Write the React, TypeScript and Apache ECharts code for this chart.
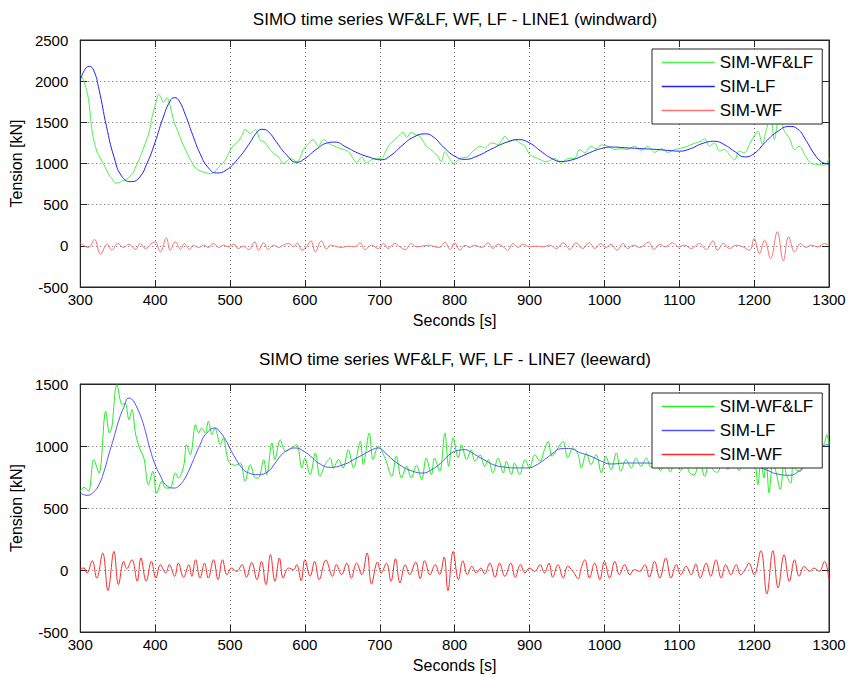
import React, { useEffect, useRef } from "react";
import * as echarts from "echarts";

const xTicks = { min: 300, max: 1300, interval: 100 };
const topY = { min: -500, max: 2500, interval: 500 };
const botY = { min: -500, max: 1500, interval: 500 };
const seriesNames = ["SIM-WF&LF", "SIM-LF", "SIM-WF"];
const titles = [
  "SIMO time series WF&LF, WF, LF - LINE1 (windward)",
  "SIMO time series WF&LF, WF, LF - LINE7 (leeward)",
];

// Top panel (LINE1)
const topLF: [number, number][] = [
  [300,2010],[306,2140],[312,2180],[318,2130],[325,1900],[335,1450],[345,1080],[355,850],[367,780],[378,820],[390,1020],[400,1260],[410,1540],[420,1760],[426,1800],[432,1760],[440,1600],[450,1350],[460,1120],[470,960],[482,885],[495,920],[510,1050],[525,1230],[537,1390],[544,1415],[552,1380],[562,1260],[575,1110],[589,1015],[600,1060],[615,1170],[630,1250],[640,1260],[655,1200],[670,1130],[685,1080],[702,1045],[715,1100],[730,1220],[745,1320],[761,1360],[772,1320],[785,1200],[800,1090],[814,1050],[830,1090],[850,1180],[870,1260],[885,1290],[900,1250],[915,1150],[930,1060],[942,1025],[955,1040],[965,1070],[980,1130],[995,1180],[1009,1200],[1030,1190],[1050,1180],[1070,1170],[1090,1155],[1100,1150],[1115,1180],[1130,1240],[1147,1270],[1160,1230],[1175,1140],[1187,1080],[1200,1120],[1215,1260],[1230,1380],[1247,1450],[1258,1420],[1270,1270],[1280,1120],[1290,1020],[1300,990],
];
const topWFLF: [number, number][] = [
  [300,2080],[305,2000],[311,1780],[316,1380],[322,1150],[328,1045],[333,960],[338,870],[342,820],[347,760],[352,770],[356,790],[360,800],[365,830],[370,880],[376,1000],[381,1100],[387,1250],[392,1380],[396,1570],[400,1700],[405,1840],[408,1800],[411,1740],[416,1800],[420,1700],[425,1510],[430,1400],[436,1255],[441,1160],[445,1080],[450,1000],[454,945],[460,910],[467,890],[474,875],[480,900],[485,960],[490,1000],[494,1045],[498,1120],[502,1190],[506,1230],[511,1270],[516,1340],[520,1415],[527,1365],[534,1415],[540,1290],[547,1255],[551,1200],[556,1145],[560,1110],[565,1080],[571,1000],[576,1030],[580,1060],[586,1040],[589,1015],[594,1080],[598,1170],[604,1230],[611,1290],[618,1210],[625,1290],[634,1230],
  [640,1210],[645,1190],[652,1170],[658,1145],[663,1080],[669,1010],[676,1080],[682,1005],[688,1040],[694,1060],[702,1060],[708,1150],[713,1230],[719,1280],[725,1330],[731,1380],[736,1315],[742,1380],[748,1350],[753,1335],[758,1270],[762,1210],[768,1170],[773,1130],[778,1080],[782,1020],[787,1145],[793,1060],[799,1000],[807,1060],[812,1070],[818,1085],[822,1130],[827,1170],[834,1210],[840,1190],[845,1220],[849,1250],[854,1240],[858,1230],[863,1280],[867,1330],[874,1270],[880,1290],[887,1250],[894,1210],[900,1110],[906,1080],[911,1060],[916,1040],[922,1020],[928,1040],[934,1060],[942,1000],[951,1060],[956,1060],[960,1060],[967,1170],[974,1130],[982,1210],[989,1180],[996,1225],[1005,1210],[1014,1170],[1022,1180],[1031,1170],[1040,1210],[1049,1160],[1058,1210],[1067,1135],[1076,1180],[1085,1135],[1094,1170],[1102,1185],[1111,1210],[1120,1245],[1129,1270],[1134,1300],[1140,1210],[1147,1250],[1154,1150],[1160,1170],[1169,1085],[1174,1045],[1180,1150],[1187,1130],[1194,1235],[1200,1335],[1205,1395],[1211,1235],[1216,1400],[1222,1560],[1227,1290],[1234,1620],[1240,1400],[1247,1310],[1254,1170],[1260,1210],[1269,1085],[1276,1000],[1285,990],[1294,980],[1300,1060],
];
const topWF: [number, number][] = [
  [300,37],[311,-20],[319,77],[327,-102],[336,20],[342,-53],[350,28],[358,-20],[365,20],[374,-45],[380,28],[387,-33],[394,20],[400,49],[407,-73],[415,98],[420,-53],[427,49],[434,-45],[439,28],[446,-45],[451,8],[458,-20],[465,8],[471,-20],[478,28],[485,-20],[491,8],[498,-12],[505,20],[511,-33],[518,-4],[525,-45],[533,49],[538,-53],[545,37],[551,-45],[558,8],[565,-20],[571,8],[578,28],[585,-12],[590,37],[596,-53],[602,-12],[608,61],[614,-73],[622,61],[629,-41],[634,8],[640,-4],[649,-20],[658,-4],[667,-12],[674,37],[680,-45],[689,8],[698,-33],[705,28],[711,-33],[720,28],[727,-12],[734,-45],[742,28],[749,-12],[756,-4],[765,8],[774,-12],[780,-20],[787,45],[794,-45],[800,37],[807,-53],[814,8],[820,-20],[827,8],[836,-20],[845,37],[851,-33],[858,20],[865,-12],[871,-53],[878,28],[885,-20],[891,20],[900,-12],[909,-4],[918,-12],[927,8],[936,-33],[945,37],[954,-45],[962,37],[971,-33],[980,37],[987,-33],[995,28],[1002,-20],[1009,20],[1017,-53],[1025,28],[1031,-33],[1039,8],[1047,-20],[1059,45],[1066,-45],[1074,20],[1081,-12],[1091,37],[1099,-12],[1107,8],[1116,-33],[1127,28],[1136,-45],[1145,61],[1151,-53],[1159,28],[1167,-33],[1176,8],[1185,-12],[1194,-53],[1200,90],[1207,-94],[1214,69],[1222,-155],[1231,171],[1239,-183],[1246,110],[1254,-73],[1262,28],[1269,-20],[1276,8],[1285,-12],[1294,28],[1300,8],
];

// Bottom panel (LINE7)
const botLF: [number, number][] = [
  [300,621],[309,602],[318,630],[325,688],[332,800],[338,930],[345,1070],[351,1199],[358,1310],[365,1387],[370,1370],[376,1306],[382,1220],[387,1118],[393,980],[400,849],[407,760],[414,688],[425,661],[432,680],[440,742],[447,830],[454,930],[460,1010],[467,1091],[480,1145],[487,1110],[494,1051],[500,980],[507,903],[515,830],[525,782],[538,769],[551,796],[560,860],[569,930],[578,970],[587,984],[600,952],[610,905],[618,863],[634,828],[654,855],[665,890],[676,925],[690,970],[698,984],[708,940],[720,876],[730,835],[738,809],[758,782],[768,805],[778,844],[786,890],[796,944],[805,965],[814,970],[822,950],[831,917],[842,880],[854,844],[867,830],[880,823],[898,823],[910,850],[920,890],[930,935],[942,978],[952,980],[960,970],[965,952],[973,935],[982,917],[995,880],[1009,855],[1031,863],[1054,863],[1080,855],[1100,850],[1125,840],[1151,830],[1175,832],[1200,836],[1215,810],[1231,774],[1249,764],[1258,790],[1267,836],[1276,910],[1285,984],[1293,1005],[1300,1011],
];
const botWFLF: [number, number][] = [
  [300,635],[305,667],[311,635],[318,890],[325,782],[334,1280],[339,1105],[342,1145],[349,1495],[356,1333],[360,1347],[365,1212],[369,1293],[374,1091],[380,970],[385,903],[391,688],[397,796],[402,621],[409,715],[414,661],[420,661],[427,782],[431,742],[438,836],[442,1011],[447,930],[454,1172],[458,1105],[462,1145],[467,1105],[471,1199],[476,1091],[480,1145],[487,1011],[491,1065],[498,876],[507,844],[514,863],[520,715],[527,850],[534,742],[538,742],[545,890],[549,769],[556,1024],[560,890],[567,1051],[574,957],[582,984],[589,1011],[596,823],[600,903],[607,769],[614,944],[620,755],[627,850],[634,903],[638,823],[645,890],[651,823],[658,970],[665,823],[674,1038],[678,850],[686,1105],[691,890],[698,997],[707,903],[716,755],[722,917],[729,742],[736,836],[742,742],[749,844],[756,728],[762,903],[769,769],[773,903],[780,796],[787,1105],[792,836],[798,1065],[805,903],[809,1011],[816,890],[822,970],[827,876],[834,930],[840,836],[845,890],[851,782],[858,903],[865,782],[869,876],[876,769],[880,863],[887,769],[894,890],[900,823],[907,930],[914,876],[920,970],[925,1038],[930,917],[938,984],[945,1038],[951,903],[958,984],[965,930],[969,823],[976,944],[982,850],[989,930],[996,782],[1002,917],[1009,809],[1016,944],[1022,796],[1029,890],[1036,823],[1042,903],[1049,836],[1056,903],[1062,830],[1069,900],[1075,800],[1082,880],[1088,790],[1095,900],[1102,800],[1108,880],[1114,782],[1120,769],[1127,880],[1134,755],[1140,870],[1146,800],[1151,788],[1158,900],[1165,810],[1172,920],[1180,800],[1187,900],[1193,820],[1200,900],[1205,688],[1209,880],[1213,742],[1216,900],[1220,621],[1225,860],[1229,796],[1235,648],[1240,880],[1243,769],[1249,701],[1252,850],[1256,809],[1262,796],[1268,880],[1275,850],[1280,960],[1286,930],[1290,1000],[1294,1024],[1297,1091],[1300,1011],
];
const botWF: [number, number][] = [
  [300,11],[305,16],[309,-24],[316,75],[322,-65],[330,137],[337,-167],[345,150],[351,-118],[358,70],[362,11],[369,83],[376,-91],[381,97],[388,-91],[395,70],[401,-65],[407,43],[414,-24],[419,43],[426,-51],[431,56],[438,-59],[445,43],[449,-51],[454,83],[460,-65],[466,56],[471,-65],[478,83],[484,-78],[490,83],[496,-38],[502,16],[509,-11],[516,43],[522,-59],[529,62],[536,-78],[542,70],[548,-118],[554,124],[560,-91],[566,97],[571,-65],[578,16],[585,3],[589,43],[595,-86],[600,83],[607,-51],[613,70],[619,-78],[628,80],[637,-51],[642,43],[649,-38],[656,56],[662,-65],[669,56],[676,-38],[683,137],[689,-113],[697,65],[702,-24],[709,56],[715,-91],[721,91],[727,-105],[734,43],[740,-38],[748,65],[754,-70],[760,75],[767,-38],[774,43],[780,-38],[786,105],[791,-167],[798,150],[805,-78],[811,75],[817,-38],[823,30],[829,-24],[835,16],[840,-32],[847,56],[854,-59],[860,56],[867,-51],[875,56],[881,-59],[888,43],[894,-24],[900,16],[907,-11],[914,43],[920,-24],[926,56],[931,-59],[938,43],[945,-65],[951,30],[958,-11],[965,-70],[969,16],[974,83],[980,-65],[987,56],[994,-78],[1000,70],[1007,-65],[1014,70],[1020,-38],[1027,43],[1034,-38],[1040,3],[1047,-11],[1054,43],[1060,-59],[1067,70],[1074,-65],[1082,97],[1089,-65],[1096,43],[1102,-38],[1109,30],[1116,-38],[1122,48],[1128,-65],[1136,56],[1142,-51],[1149,83],[1156,-65],[1162,43],[1169,-38],[1176,43],[1182,-38],[1189,16],[1193,56],[1200,-38],[1209,156],[1217,-194],[1225,156],[1232,-145],[1240,124],[1247,-91],[1254,83],[1260,-51],[1267,30],[1274,-11],[1280,16],[1287,-11],[1294,70],[1300,-78],
];

const topColors = ["#4cf04c", "#2020ff", "#ff7070"];
const botColors = ["#22ee22", "#5050ff", "#ff2a2a"];

const FONT = "'Liberation Sans', Arial, Helvetica, sans-serif";

export default function App() {
  const ref = useRef<HTMLDivElement>(null);
  useEffect(() => {
    if (!ref.current) return;
    const chart = echarts.init(ref.current, undefined, { renderer: "svg" });
    const axisColor = "#262626";
    const mkX = (gridIndex: number, main: boolean) => ({
      type: "value" as const,
      gridIndex,
      position: main ? "bottom" : "top",
      min: xTicks.min,
      max: xTicks.max,
      interval: xTicks.interval,
      name: main ? "Seconds [s]" : "",
      nameLocation: "middle" as const,
      nameGap: 25,
      nameTextStyle: { fontFamily: FONT, fontSize: 16, color: "#000" },
      axisLine: { onZero: false, show: true, lineStyle: { color: axisColor, width: 1 } },
      axisTick: { show: true, inside: true, length: 7, lineStyle: { color: axisColor } },
      axisLabel: { show: main, fontFamily: FONT, fontSize: 15, color: "#000", margin: 5, formatter: (v: number) => String(v) },
      splitLine: { show: main, lineStyle: { type: [1, 3], color: "#666", width: 1 } },
    });
    const mkY = (gridIndex: number, main: boolean, r: { min: number; max: number; interval: number }) => ({
      type: "value" as const,
      gridIndex,
      position: main ? "left" : "right",
      min: r.min,
      max: r.max,
      interval: r.interval,
      name: main ? "Tension [kN]" : "",
      nameLocation: "middle" as const,
      nameGap: 47,
      nameTextStyle: { fontFamily: FONT, fontSize: 16, color: "#000" },
      axisLine: { onZero: false, show: true, lineStyle: { color: axisColor, width: 1 } },
      axisTick: { show: true, inside: true, length: 7, lineStyle: { color: axisColor } },
      axisLabel: { show: main, fontFamily: FONT, fontSize: 15, color: "#000", margin: 12, formatter: (v: number) => String(v) },
      splitLine: { show: main, lineStyle: { type: [1, 3], color: "#666", width: 1 } },
    });
    const mkSeries = (data: [number, number][], name: string, color: string, axis: number, smooth: number) => ({
      type: "line" as const,
      name,
      data,
      xAxisIndex: axis,
      yAxisIndex: axis,
      showSymbol: false,
      symbol: "none",
      smooth,
      lineStyle: { color, width: 1 },
      itemStyle: { color },
      emphasis: { disabled: true },
    });
    const mkLegend = (top: number, colors: string[]) => ({
      orient: "vertical" as const,
      left: 652,
      top,
      padding: [5, 9, 5, 9],
      itemGap: 7,
      itemWidth: 53,
      itemHeight: 14,
      backgroundColor: "#fff",
      borderColor: axisColor,
      borderWidth: 1,
      borderRadius: 0,
      textStyle: { fontFamily: FONT, fontSize: 17, color: "#000" },
      data: seriesNames.map((n, i) => ({
        name: n,
        itemStyle: { color: colors[i], opacity: 0 },
        lineStyle: { color: colors[i], width: 1.5 },
      })),
      selectedMode: false,
    });
    chart.setOption({
      animation: false,
      backgroundColor: "#fff",
      title: [
        { text: titles[0], left: 455, top: 11, textAlign: "center", padding: 0, textStyle: { fontFamily: FONT, fontSize: 17, fontWeight: "normal", color: "#000" } },
        { text: titles[1], left: 455, top: 351, textAlign: "center", padding: 0, textStyle: { fontFamily: FONT, fontSize: 17, fontWeight: "normal", color: "#000" } },
      ],
      legend: [mkLegend(49, topColors), mkLegend(393, botColors)],
      grid: [
        { left: 80, right: 20, top: 40, height: 247, show: true, borderColor: axisColor, borderWidth: 1, backgroundColor: "transparent" },
        { left: 80, right: 20, top: 384, height: 248, show: true, borderColor: axisColor, borderWidth: 1, backgroundColor: "transparent" },
      ],
      xAxis: [mkX(0, true), mkX(0, false), mkX(1, true), mkX(1, false)],
      yAxis: [mkY(0, true, topY), mkY(0, false, topY), mkY(1, true, botY), mkY(1, false, botY)],
      series: [
        mkSeries(topWFLF, seriesNames[0], topColors[0], 0, 0.3),
        mkSeries(topLF, seriesNames[1], topColors[1], 0, 0.5),
        mkSeries(topWF, seriesNames[2], topColors[2], 0, 0.4),
        mkSeries(botWFLF, seriesNames[0], botColors[0], 2, 0.35),
        mkSeries(botLF, seriesNames[1], botColors[1], 2, 0.5),
        mkSeries(botWF, seriesNames[2], botColors[2], 2, 0.4),
      ],
    });
    return () => chart.dispose();
  }, []);
  return (
    <div
      ref={ref}
      style={{ position: "fixed", left: 0, top: 0, width: 849, height: 677, background: "#fff" }}
    />
  );
}
